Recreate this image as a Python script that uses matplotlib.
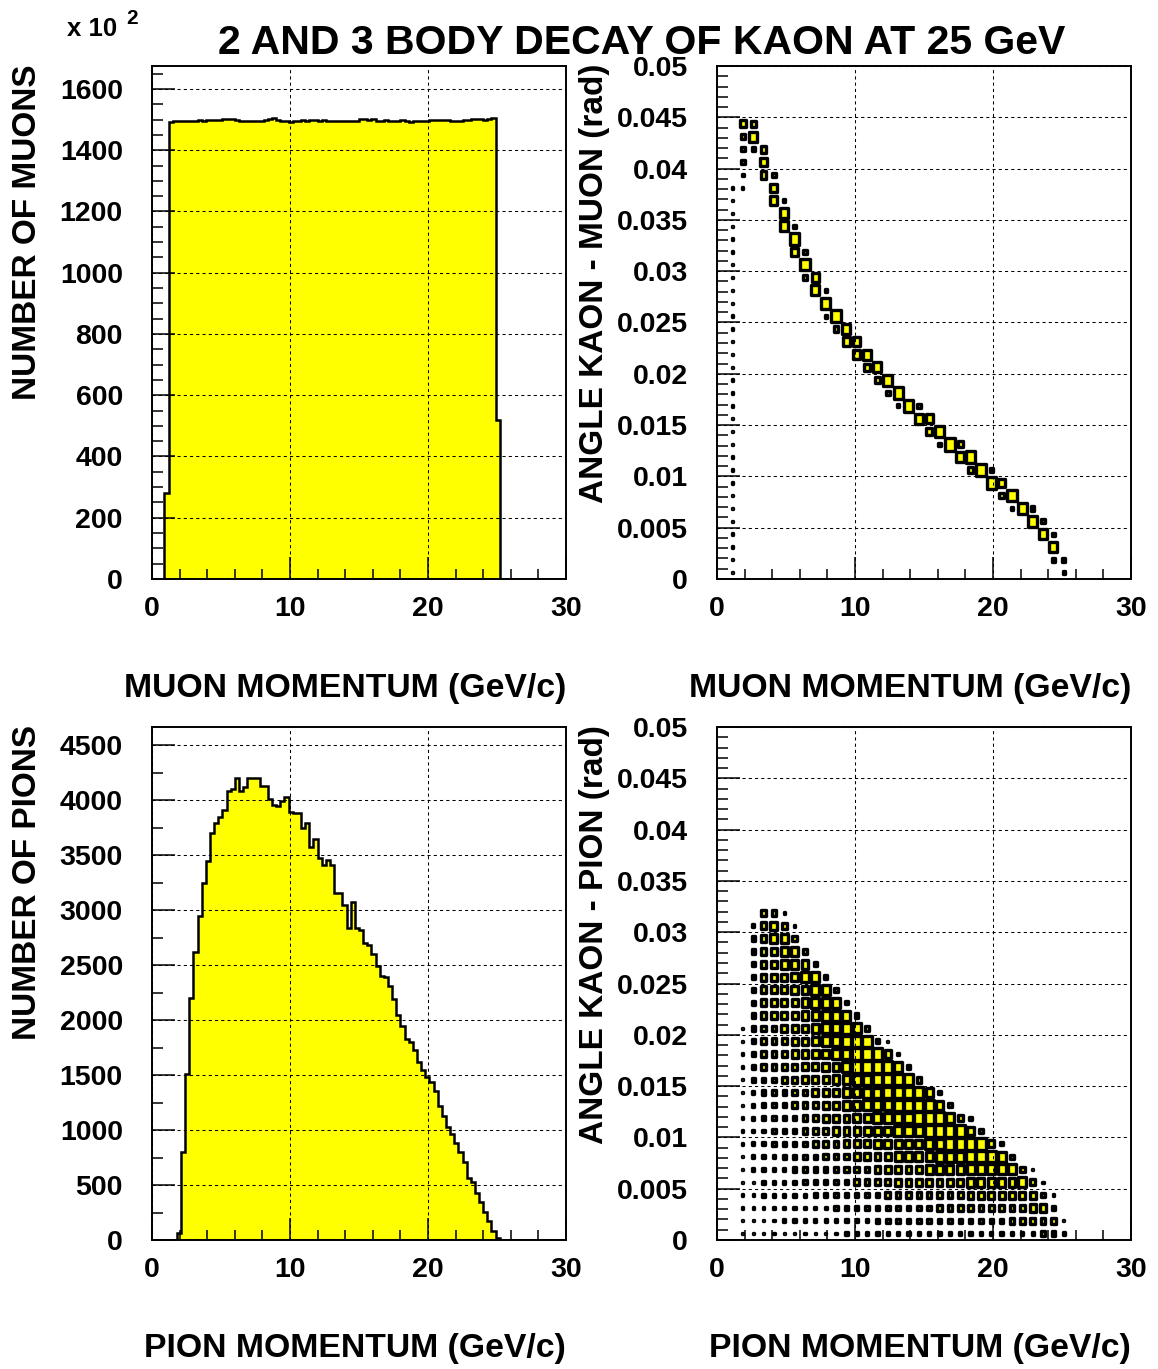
import numpy as np
import matplotlib
matplotlib.use("Agg")
import matplotlib.pyplot as plt
from matplotlib.patches import Rectangle
from matplotlib.collections import PatchCollection
from matplotlib.ticker import MultipleLocator, FuncFormatter

plt.rcParams["font.family"] = ["Liberation Sans", "DejaVu Sans"]
plt.rcParams["font.weight"] = "bold"

W, H = 1158, 1369
YELLOW = "#ffff00"

# 1D histograms: 100 bins of 0.3 GeV/c from 0 to 30
n_bins = 100
p_range = (0.0, 30.0)

# muon momentum, entries in units of 10^2, starting at bin 3 (0.9 GeV/c)
muon_first_bin = 3
muon_counts = [280,
               1493, 1495, 1494, 1496, 1495, 1497,
               1497, 1498, 1496, 1499, 1500, 1498,
               1499, 1501, 1503, 1502, 1500,
               1497, 1495, 1496, 1494, 1496, 1497,
               1500, 1503, 1504,
               1498, 1494, 1495, 1493, 1496,
               1497, 1498, 1497, 1499, 1498, 1497, 1499,
               1496, 1495, 1497, 1496, 1494, 1496, 1495, 1497,
               1501, 1503, 1500, 1502,
               1497, 1496, 1498, 1495, 1497, 1496, 1498,
               1494, 1493, 1495, 1494, 1496, 1497,
               1499, 1500, 1498, 1500, 1499, 1497,
               1497, 1496, 1498, 1499,
               1502, 1501, 1503, 1500, 1502, 1504,
               520]

# pion momentum, starting at bin 6 (1.8 GeV/c)
pion_first_bin = 6
pion_counts = [60, 800, 1510, 2200, 2620, 2950, 3245, 3445, 3700, 3795,
               3850, 3910, 4085, 4100, 4205, 4080, 4115, 4205, 4200, 4200,
               4130, 4130, 4010, 3955, 3950, 3995, 4025, 3890, 3880, 3880,
               3745, 3790, 3570, 3645, 3475, 3410, 3455, 3410, 3155, 3155,
               3045, 2840, 3075, 2840, 2820, 2705, 2685, 2600, 2490, 2400,
               2395, 2310, 2190, 2050, 1945, 1830, 1805, 1725, 1615, 1545,
               1485, 1435, 1355, 1220, 1125, 1030, 960, 885, 800, 705,
               560, 530, 430, 345, 255, 170, 85, 15]

# 2D histograms: 40 x 40 cells, momentum 0..30 GeV/c, angle 0..0.05 rad
n_cells = 40
angle_max = 0.05
level_max = 9

# kaon-muon angle vs muon momentum: (momentum cell, angle cell, content)
muon_cells = [
    (1, 0, 1), (33, 0, 2),
    (1, 1, 1), (32, 1, 3), (33, 1, 3),
    (1, 2, 1), (32, 2, 7),
    (1, 3, 1), (31, 3, 7), (32, 3, 2),
    (1, 4, 1), (30, 4, 8), (31, 4, 3),
    (1, 5, 1), (28, 5, 2), (29, 5, 8), (30, 5, 3),
    (1, 6, 1), (27, 6, 4), (28, 6, 8),
    (1, 7, 1), (26, 7, 8), (27, 7, 6),
    (1, 8, 1), (24, 8, 4), (25, 8, 9), (26, 8, 3),
    (1, 9, 1), (23, 9, 7), (24, 9, 8),
    (1, 10, 1), (21, 10, 2), (22, 10, 9), (23, 10, 4),
    (1, 11, 1), (20, 11, 5), (21, 11, 8),
    (1, 12, 1), (19, 12, 7), (20, 12, 6),
    (1, 13, 1), (17, 13, 2), (18, 13, 8), (19, 13, 3),
    (1, 14, 1), (16, 14, 3), (17, 14, 8),
    (1, 15, 1), (15, 15, 4), (16, 15, 8),
    (1, 16, 1), (14, 16, 5), (15, 16, 7),
    (1, 17, 1), (13, 17, 6), (14, 17, 7),
    (1, 18, 1), (12, 18, 6), (13, 18, 6),
    (1, 19, 1), (11, 19, 4), (12, 19, 7),
    (1, 20, 1), (10, 20, 2), (11, 20, 8),
    (1, 21, 1), (10, 21, 8),
    (1, 22, 1), (9, 22, 7), (10, 22, 2),
    (1, 23, 1), (8, 23, 3), (9, 23, 6),
    (1, 24, 1), (8, 24, 8),
    (1, 25, 1), (7, 25, 6), (8, 25, 3),
    (1, 26, 1), (7, 26, 8),
    (1, 27, 1), (6, 27, 7), (7, 27, 2),
    (1, 28, 1), (6, 28, 7),
    (1, 29, 1), (5, 29, 6), (6, 29, 2),
    (1, 30, 1), (2, 30, 1), (5, 30, 6),
    (2, 31, 2), (4, 31, 5), (5, 31, 3),
    (2, 32, 3), (4, 32, 6),
    (2, 33, 3), (3, 33, 3), (4, 33, 5),
    (2, 34, 4), (3, 34, 7),
    (2, 35, 5), (3, 35, 4),
]

# kaon-pion angle vs pion momentum: one string per angle cell (bottom first),
# one digit per momentum cell starting at cell 0
pion_cells = [
    "00" "1111111111" "2222222222222222222" "332",
    "00" "1111" "222222222" "3333333333333" "44444" "1",
    "00" "111" "222222" "3333333333" "444444444" "55" "3",
    "00" "11" "22222" "3333333" "44444444" "5555555" "3" "1",
    "00" "11" "2222" "33333" "4444" "5555555" "66666" "7" "4" "1",
    "00" "1" "2222" "3333" "4444" "55555" "6666" "77777" "4" "1",
    "00" "1" "222" "3333" "444" "5555" "6666" "777" "888" "7" "3",
    "00" "1" "22" "3333" "444" "555" "66666" "77" "8888" "5" "2",
    "00" "1" "22" "333" "444" "555" "666" "777" "8888" "6" "3",
    "00" "1" "2" "3333" "44" "555" "66" "7777" "888" "7" "4" "2",
    "00" "1" "2" "333" "444" "55" "66" "777" "8888" "6" "3",
    "00" "1" "2" "333" "44" "555" "66" "77" "8888" "6" "2",
    "00" "1" "333" "44" "555" "66" "77" "8888" "4",
    "00" "1" "3" "4444" "55" "66" "7" "8888" "7" "3",
    "00" "1" "3" "444" "55" "66" "77" "888" "5" "2",
    "00" "1" "3" "444" "55" "6" "77" "888" "3" "1",
    "00" "1" "3" "44" "555" "6" "77" "8" "7" "3",
    "000" "3" "5555" "66" "777" "3",
    "000" "3" "5555" "6" "777" "2",
    "000" "3" "555" "66" "77" "3",
    "000" "3" "555" "6" "77" "3",
    "000" "3" "55" "666" "3",
    "000" "3" "55" "66" "4",
    "000" "3" "5" "66" "4",
    "000" "2" "5" "6" "4" "1",
    "0000" "4" "4" "1",
]

title = "2 AND 3 BODY DECAY OF KAON AT 25 GeV"
x_labels = ["MUON MOMENTUM (GeV/c)", "MUON MOMENTUM (GeV/c)",
            "PION MOMENTUM (GeV/c)", "PION MOMENTUM (GeV/c)"]
y_labels = ["NUMBER OF MUONS", "ANGLE KAON - MUON (rad)",
            "NUMBER OF PIONS", "ANGLE KAON - PION (rad)"]


def fig_xy(x, y):
    return x / W, 1 - y / H


def style_axes(ax, ymax, ymajor, yminor):
    ax.set_xlim(*p_range)
    ax.set_ylim(0, ymax)
    ax.xaxis.set_major_locator(MultipleLocator(10))
    ax.xaxis.set_minor_locator(MultipleLocator(2))
    ax.yaxis.set_major_locator(MultipleLocator(ymajor))
    ax.yaxis.set_minor_locator(MultipleLocator(yminor))
    ax.yaxis.set_major_formatter(FuncFormatter(lambda v, p: "%g" % round(v, 6)))
    ax.tick_params(which="both", direction="in", top=False, right=False,
                   width=1.1, labelsize=20.5)
    ax.tick_params(axis="x", which="major", length=16, pad=12)
    ax.tick_params(axis="x", which="minor", length=7.5)
    ax.tick_params(axis="y", which="major", length=16.5, pad=21)
    ax.tick_params(axis="y", which="minor", length=8)
    ax.set_axisbelow(False)
    ax.grid(True, which="major", color="black", lw=0.75, ls=(0, (3, 3)))
    for s in ax.spines.values():
        s.set_linewidth(1.4)
        s.set_zorder(5)


def draw_hist(ax, first_bin, counts):
    edges = np.linspace(p_range[0], p_range[1], n_bins + 1)
    values = np.zeros(n_bins)
    values[first_bin:first_bin + len(counts)] = counts
    ax.stairs(values, edges, fill=True, color=YELLOW, zorder=1)
    ax.stairs(values, edges, color="black", lw=1.8, zorder=2)


def draw_boxes(ax, cells):
    cw = (p_range[1] - p_range[0]) / n_cells
    ch = angle_max / n_cells
    boxes = []
    for c, r, v in cells:
        f = v / level_max
        xc = p_range[0] + (c + 0.5) * cw
        yc = (r + 0.5) * ch
        boxes.append(Rectangle((xc - f * cw / 2, yc - f * ch / 2), f * cw, f * ch))
    ax.add_collection(PatchCollection(boxes, facecolor=YELLOW, edgecolor="black",
                                      linewidth=2.4, zorder=1))


fig = plt.figure(figsize=(W / 100, H / 100), dpi=100)

axes_px = [(152, 66), (717, 66), (152, 727), (717, 727)]
axes = []
for (x0, y0) in axes_px:
    l, t = fig_xy(x0, y0)
    axes.append(fig.add_axes([l, t - 513 / H, 414 / W, 513 / H]))
ax_mu, ax_mu2, ax_pi, ax_pi2 = axes

draw_hist(ax_mu, muon_first_bin, muon_counts)
style_axes(ax_mu, 1675, 200, 50)

draw_boxes(ax_mu2, muon_cells)
style_axes(ax_mu2, angle_max, 0.005, 0.001)

draw_hist(ax_pi, pion_first_bin, pion_counts)
style_axes(ax_pi, 4665, 500, 250)

pion_list = [(c, r, int(ch)) for r, row in enumerate(pion_cells)
             for c, ch in enumerate(row) if ch != "0"]
draw_boxes(ax_pi2, pion_list)
style_axes(ax_pi2, angle_max, 0.005, 0.001)

# axis titles, PAW style: x title right aligned, y title top aligned
for i, (x0, y0) in enumerate(axes_px):
    xr = x0 + 414
    ylab = y0 + 622
    fig.text(*fig_xy(xr, ylab), x_labels[i], ha="right", va="center", fontsize=24.3)
    xl = 28 if x0 < 300 else 594
    fig.text(*fig_xy(xl, y0 - 2), y_labels[i], rotation=90,
             ha="center", va="top", fontsize=24)

fig.text(*fig_xy(642, 43), title, ha="center", va="center", fontsize=29.5)
fig.text(*fig_xy(67, 36), "x 10", ha="left", va="baseline", fontsize=18.5)
fig.text(*fig_xy(126, 24), "2", ha="left", va="baseline", fontsize=15)

fig.savefig("out.png", dpi=100)
